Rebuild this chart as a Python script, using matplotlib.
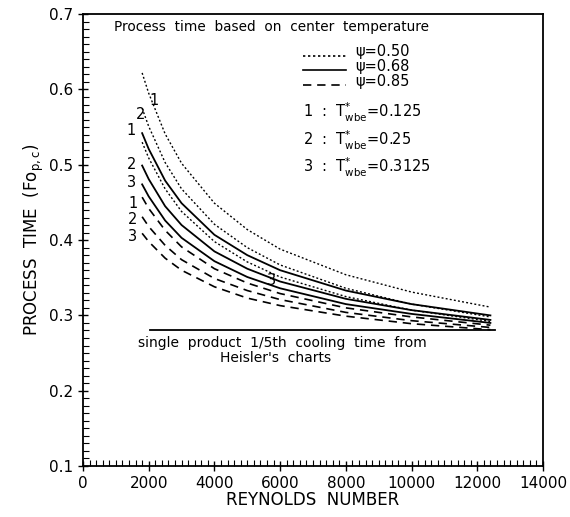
import matplotlib
matplotlib.use("Agg")
import matplotlib.pyplot as plt
from matplotlib.ticker import MultipleLocator

plt.rcParams['font.family'] = ['DejaVu Sans']
plt.rcParams['mathtext.fontset'] = 'dejavusans'

reynolds = [1800, 2000, 2500, 3000, 4000, 5000, 6000, 8000, 10000, 12400]

# psi = 0.50 (dotted)
psi050_t1 = [0.622, 0.595, 0.541, 0.502, 0.449, 0.414, 0.388, 0.354, 0.331, 0.311]
psi050_t2 = [0.575, 0.551, 0.503, 0.468, 0.421, 0.390, 0.367, 0.336, 0.315, 0.298]
psi050_t3 = [0.530, 0.509, 0.468, 0.438, 0.398, 0.371, 0.351, 0.325, 0.307, 0.292]
# psi = 0.68 (solid)
psi068_t1 = [0.542, 0.521, 0.479, 0.449, 0.407, 0.380, 0.360, 0.333, 0.315, 0.300]
psi068_t2 = [0.499, 0.481, 0.445, 0.420, 0.385, 0.362, 0.345, 0.322, 0.307, 0.294]
psi068_t3 = [0.474, 0.458, 0.426, 0.403, 0.372, 0.351, 0.336, 0.315, 0.302, 0.290]
# psi = 0.85 (dashed)
psi085_t1 = [0.457, 0.442, 0.413, 0.391, 0.362, 0.343, 0.329, 0.310, 0.298, 0.287]
psi085_t2 = [0.431, 0.418, 0.393, 0.374, 0.349, 0.333, 0.321, 0.304, 0.293, 0.284]
psi085_t3 = [0.409, 0.398, 0.376, 0.360, 0.338, 0.323, 0.313, 0.299, 0.289, 0.281]

# Heisler single product reference
heisler_re = [2050, 12550]
heisler_fo = [0.28, 0.28]

psi_labels = ["0.50", "0.68", "0.85"]
twbe_labels = ["0.125", "0.25", "0.3125"]

dotted = (0, (1.4, 1.6))
dashed = (0, (5, 3.5))

fig = plt.figure(figsize=(5.7, 5.17), dpi=100)
ax = fig.add_axes([0.1456, 0.0986, 0.807, 0.874])

for ys in (psi050_t1, psi050_t2, psi050_t3):
    ax.plot(reynolds, ys, color='black', ls=dotted, lw=1.0)
for ys in (psi068_t1, psi068_t2, psi068_t3):
    ax.plot(reynolds, ys, color='black', ls='-', lw=1.3)
for ys in (psi085_t1, psi085_t2, psi085_t3):
    ax.plot(reynolds, ys, color='black', ls=dashed, lw=1.2)

ax.plot(heisler_re, heisler_fo, color='black', lw=1.3)
ax.text(6080, 0.264, "single  product  1/5th  cooling  time  from",
        ha='center', va='center', fontsize=10)
ax.text(5870, 0.243, "Heisler's  charts", ha='center', va='center', fontsize=10)

# curve numbers
curve_tags = [("1", 2150, 0.586), ("2", 1750, 0.567), ("3", 5750, 0.346),
              ("1", 1450, 0.546), ("2", 1480, 0.500), ("3", 1480, 0.477),
              ("1", 1520, 0.449), ("2", 1520, 0.428), ("3", 1520, 0.405)]
for tag, rx, fy in curve_tags:
    ax.text(rx, fy, tag, ha='center', va='center', fontsize=10.5)

# in-plot legend
ax.text(950, 0.683, "Process  time  based  on  center  temperature",
        ha='left', va='center', fontsize=9.8)
legend_styles = [dotted, '-', dashed]
legend_y = [0.650, 0.631, 0.611]
for style, lab, ly in zip(legend_styles, psi_labels, legend_y):
    ax.plot([6700, 8000], [ly - 0.005, ly - 0.005], color='black', ls=style,
            lw=1.2)
    ax.text(8300, ly, "\u03c8=" + lab, ha='left', va='center', fontsize=10.5)

twbe_y = [0.569, 0.533, 0.496]
for i, (lab, ty) in enumerate(zip(twbe_labels, twbe_y)):
    ax.text(6700, ty, r"%d  :  T$^{*}_{\rm wbe}$=%s" % (i + 1, lab),
            ha='left', va='center', fontsize=10.5)

ax.set_xlim(0, 14000)
ax.set_ylim(0.1, 0.7)
ax.xaxis.set_major_locator(MultipleLocator(2000))
ax.xaxis.set_minor_locator(MultipleLocator(200))
ax.yaxis.set_major_locator(MultipleLocator(0.1))
ax.yaxis.set_minor_locator(MultipleLocator(0.01))
ax.tick_params(which='major', direction='inout', length=7, width=1.0,
               labelsize=11, top=False, right=False)
ax.tick_params(which='minor', direction='in', length=4, width=0.8,
               top=False, right=False)
ax.set_yticks([0.1, 0.2, 0.3, 0.4, 0.5, 0.6, 0.7])
ax.set_yticklabels(["0.1", "0.2", "0.3", "0.4", "0.5", "0.6", "0.7"])
for sp in ax.spines.values():
    sp.set_linewidth(1.3)

ax.set_xlabel("REYNOLDS  NUMBER", fontsize=12, labelpad=0)
ax.set_ylabel(r"PROCESS  TIME  (Fo$_{\rm p,c}$)", fontsize=12, labelpad=2)

fig.savefig("out.png", dpi=100)
